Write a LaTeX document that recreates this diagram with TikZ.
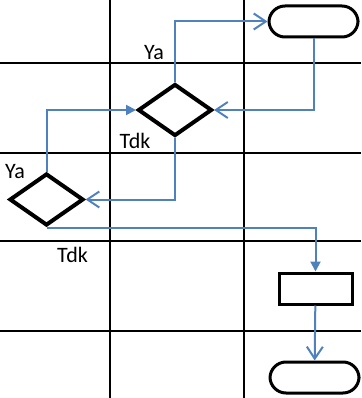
\documentclass[tikz,border=0pt]{standalone}
\usepackage{fontspec}
\setmainfont{Carlito}
\usetikzlibrary{arrows.meta, positioning, shapes.geometric}

\begin{document}
\begin{tikzpicture}[x=1pt, y=-1pt,
        terminal/.style={draw, line width=3pt, rounded corners=16pt, minimum width=89pt, minimum height=31pt, inner sep=0pt},
        decision/.style={diamond, draw, line width=4pt, minimum width=74pt, minimum height=52pt, inner sep=0pt},
        process/.style={draw, line width=3pt, minimum width=73pt, minimum height=31pt, inner sep=0pt},
        flow/.style={draw=flowblue, line width=2pt},
        open/.style={flow, -{Straight Barb[length=12pt, width=16pt]}},
        solid/.style={flow, -{Triangle[length=10pt, width=10pt]}},
        lbl/.style={font=\fontsize{22pt}{24pt}\selectfont, inner sep=0pt}
    ]
        \definecolor{flowblue}{RGB}{79,129,189}
        \useasboundingbox (0,0) rectangle (361,398);
        % swimlane grid
        \foreach \x in {110,244} \draw[line width=1.3pt] (\x,0) -- (\x,398);
        \foreach \y in {63,153,241,331} \draw[line width=1.3pt] (0,\y) -- (361,\y);

        \node[terminal] (start) at (313.5,21.5) {};
        \node[decision] (dec1) at (175,110) {};
        \node[decision] (dec2) at (46.5,199.5) {};
        \node[process] (proc) at (315.5,288.5) {};
        \node[terminal] (stop) at (314.5,377.5) {};

        \node[lbl] (ya1) at (154,53) {Ya};
        \node[lbl] (tdk1) at (135,141) {Tdk};
        \node[lbl] (ya2) at (15,172) {Ya};
        \node[lbl] (tdk2) at (72.5,255) {Tdk};

        \draw[open] (dec1.north) |- (start.west);
        \draw[open] (start.south) |- (dec1.east);
        \draw[solid] (dec2.north) |- (dec1.west);
        \draw[open] (dec1.south) |- (dec2.east);
        \draw[solid] (dec2.south) -| (proc.north);
        \draw[open] (proc) -- (stop);
    \end{tikzpicture}
\end{document}
